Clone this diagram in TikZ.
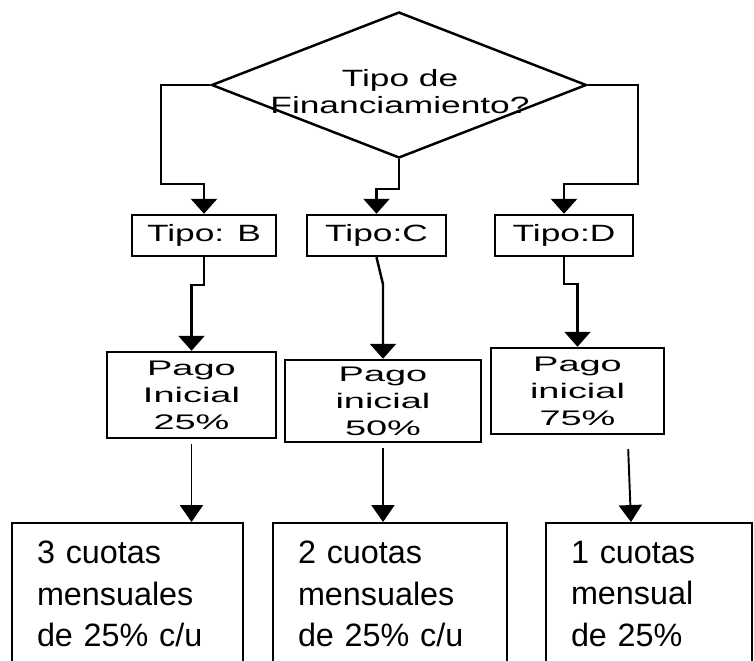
\documentclass[tikz,border=0pt]{standalone}
\usepackage{fontspec}
\setmainfont{Liberation Sans}
\newfontfamily\widesans[FakeStretch=1.5]{Liberation Sans}
\newfontfamily\widersans[FakeStretch=1.8]{Liberation Sans}
\usetikzlibrary{arrows.meta, shapes.geometric, calc}
\def\pxl{0.02cm}

\begin{document}
\begin{tikzpicture}[x=\pxl, y=-\pxl, >={Triangle[width=0.52cm,length=0.3cm]}]
    \tikzstyle{decision}=[diamond, draw, line width=1.4pt, minimum width=7.5cm, minimum height=2.92cm, inner sep=0pt]
    \tikzstyle{tipo box}=[rectangle, draw, line width=1.4pt, inner sep=0pt, minimum height=0.82cm, font=\widesans\fontsize{13.4}{15.3}\selectfont]
    \tikzstyle{pago box}=[rectangle, draw, line width=1.4pt, inner sep=0pt, align=center, font=\widersans\fontsize{12}{15.3}\selectfont]
    \tikzstyle{cuota box}=[rectangle, draw, line width=1.1pt, inner xsep=0.5cm, inner ysep=0pt, align=left, font=\fontsize{18.4}{23.8}\selectfont]
    \tikzstyle{flow}=[->, line width=1.4pt]
    \tikzstyle{thin flow}=[-{Triangle[width=0.46cm,length=0.34cm]}, line width=1.1pt, shorten <=0.1cm]

    \useasboundingbox (0,0) rectangle (754,660);
    \clip (0,0) rectangle (754,660);

    % Draw the decision node
    \node[decision] (tipo) at (399,85) {};
    \node[align=center, inner sep=0pt, font=\widesans\fontsize{13.4}{15.3}\selectfont] (tipo-txt) at (400,92) {Tipo de\\Financiamiento?};

    % Draw the type boxes
    \foreach \name / \x / \w / \txt in {B/204/144/{Tipo: B}, C/376.5/139/{Tipo:C}, D/564/138/{Tipo:D}}
        \node[tipo box, minimum width=\w*\pxl] (T-\name) at (\x,235.5) {\txt};

    % Draw the down payment boxes
    \foreach \name / \x / \y / \w / \h / \txt in {B/191.5/395/169/86/{Pago\\Inicial\\25\%}, C/383/401/196/82/{Pago\\inicial\\50\%}, D/577.5/391/173/86/{Pago\\inicial\\75\%}}
        \node[pago box, minimum width=\w*\pxl, minimum height=\h*\pxl] (P-\name) at (\x,\y) {\txt};

    % Draw the instalment boxes
    \foreach \name / \x / \tw / \txt in {B/127.5/3.62cm/{3 cuotas\\mensuales\\de 25\% c/u}, C/390/3.68cm/{2 cuotas\\mensuales\\de 25\% c/u}, D/649/3.12cm/{1 cuotas\\mensual\\de 25\%}}
        \node[cuota box, text width=\tw, minimum height=2.84cm] (C-\name) at (\x,594) {\txt};

    % Connect the decision with every type
    \draw[flow] (tipo.west) -| (161,184) -| (T-B.north);
    \draw[flow] (tipo.south) -- ++(0,30) -| (T-C.north);
    \draw[flow] (tipo.east) -| (638,184) -| (T-D.north);

    % Connect every type with its down payment
    \draw[flow] (T-B.south) -- ++(0,28) -| (P-B.north);
    \draw[flow] (T-C.south) -- ++(6.5,27) -- (P-C.north);
    \draw[flow] (T-D.south) -- ++(0,27) -| (P-D.north);

    % Connect every down payment with its instalments
    \draw[thin flow] (P-B.south) -- (P-B.south |- C-B.north);
    \draw[thin flow] (P-C.south) -- (P-C.south |- C-C.north);
    \draw[thin flow] ($(P-D.south)+(50.5,9)$) -- ($(C-D.north)+(-18,0)$);

\end{tikzpicture}
\end{document}
